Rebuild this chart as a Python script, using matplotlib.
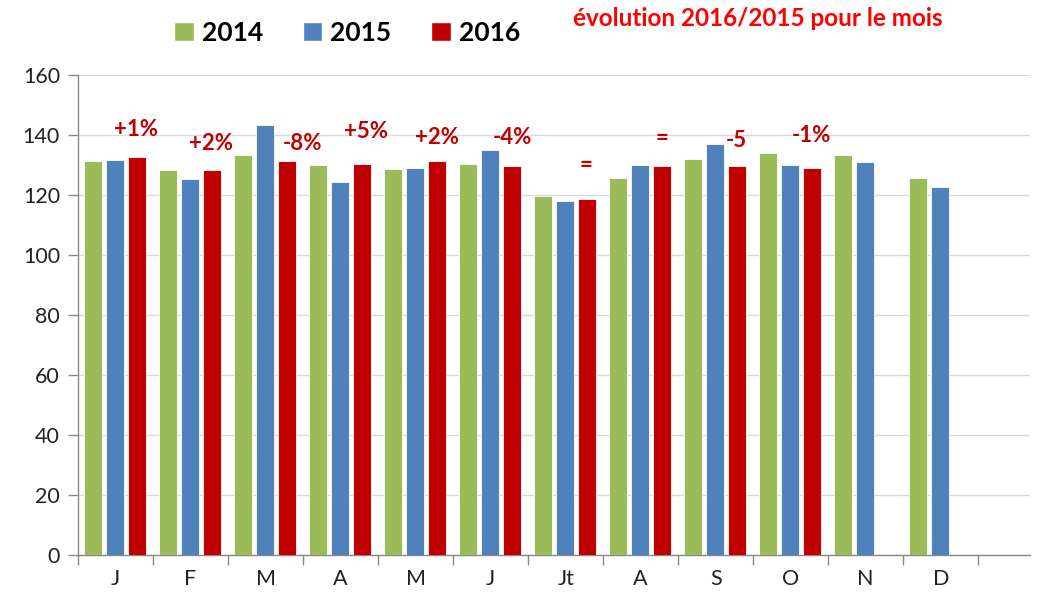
import numpy as np
import matplotlib
matplotlib.use("Agg")
import matplotlib.pyplot as plt
from matplotlib.patches import Patch

months = ["J", "F", "M", "A", "M", "J", "Jt", "A", "S", "O", "N", "D"]
series_names = ["2014", "2015", "2016"]
v2014 = [131.2, 128.2, 133.3, 129.9, 128.7, 130.4, 119.8, 125.7, 132.1, 133.9, 133.3, 125.7]
v2015 = [131.7, 125.3, 143.2, 124.4, 129.1, 135.1, 118.0, 129.9, 136.9, 129.9, 130.9, 122.7]
v2016 = [132.6, 128.2, 131.2, 130.4, 131.2, 129.6, 118.6, 129.6, 129.6, 129.1, np.nan, np.nan]
colors = ["#9BBB59", "#4F81BD", "#C00000"]

# evolution labels: (month index, label, y position)
evo_idx = [0, 1, 2, 3, 4, 5, 6, 7, 8, 9]
evo_labels = ["+1%", "+2%", "-8%", "+5%", "+2%", "-4%", "=", "=", "-5", "-1%"]
evo_dx = [0.27, 0.27, 0.49, 0.34, 0.29, 0.29, 0.27, 0.29, 0.27, 0.27]
evo_y = [141.7, 137.0, 137.0, 141.3, 139.3, 139.0, 129.7, 138.7, 138.3, 140.0]

font = ["Lato", "DejaVu Sans"]
plt.rcParams["font.family"] = font

fig = plt.figure(figsize=(10.41, 6.0), dpi=100)
ax = fig.add_axes([78 / 1041, 1 - 555 / 600, (1030 - 78) / 1041, (555 - 75) / 600])

x = np.arange(len(months))
width = 0.24
offsets = [-0.305, -0.01, 0.285]
for vals, off, c in zip([v2014, v2015, v2016], offsets, colors):
    ax.bar(x + off, vals, width=width, color=c, edgecolor="white", linewidth=0.6, zorder=3)

for i, lab, dx, yy in zip(evo_idx, evo_labels, evo_dx, evo_y):
    ax.text(i + dx, yy, lab, ha="center", va="center", color="#C00000",
            fontsize=16, fontweight="bold", zorder=4)

ax.set_ylim(0, 160)
ax.set_yticks(np.arange(0, 161, 20))
ax.set_xlim(-0.5, 12.19)
ax.set_xticks(x)
ax.set_xticklabels(months)
ax.set_xticks(np.arange(-0.5, 12, 1), minor=True)
ax.tick_params(axis="x", which="major", length=0, pad=10, labelsize=15.5, labelcolor="#222222")
ax.tick_params(axis="x", which="minor", length=7, width=1, color="#888888")
ax.tick_params(axis="y", length=7, width=1, color="#888888", labelsize=15.5, labelcolor="#222222", pad=6)

ax.grid(axis="y", color="#D9D9D9", linewidth=1, zorder=0)
ax.set_axisbelow(True)
for s in ["top", "right"]:
    ax.spines[s].set_visible(False)
for s in ["left", "bottom"]:
    ax.spines[s].set_color("#888888")
    ax.spines[s].set_linewidth(1)

handles = [Patch(facecolor=c, edgecolor="white") for c in colors]
fig.legend(handles, series_names, loc="center", bbox_to_anchor=(347 / 1041, 1 - 33 / 600),
           ncol=3, frameon=False, handlelength=0.75, handleheight=0.75, handletextpad=0.3,
           columnspacing=1.5, prop={"family": font, "weight": "bold", "size": 19})

fig.text(758 / 1041, 1 - 19 / 600, "évolution 2016/2015 pour le mois", ha="center", va="center",
         color="#FF0000", fontsize=17.5, fontweight="bold")

fig.savefig("out.png", dpi=100)
